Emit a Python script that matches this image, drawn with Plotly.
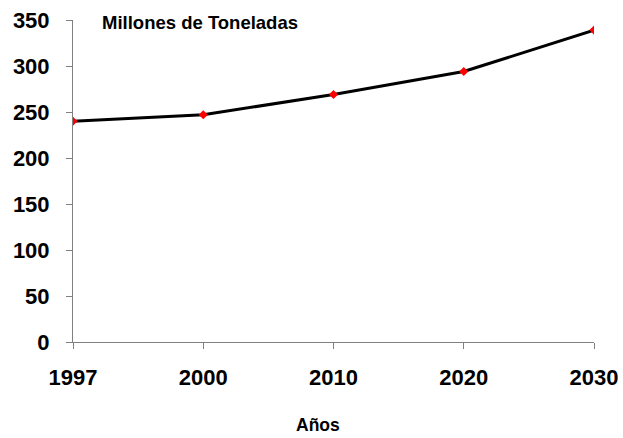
import plotly.graph_objects as go

years = ["1997", "2000", "2010", "2020", "2030"]
toneladas = [240, 247, 269, 294, 339]
y_ticks = [0, 50, 100, 150, 200, 250, 300, 350]

L, R, T, B = 73, 29, 20, 96
W, H = 623, 438
pw, ph = W - L - R, H - T - B

fig = go.Figure()
fig.add_trace(go.Scatter(
    x=years, y=toneladas, mode="lines+markers",
    line=dict(color="black", width=3),
    marker=dict(symbol="diamond", color="red", size=7),
    showlegend=False,
))

font = "Liberation Sans, Arial, sans-serif"
fig.update_layout(
    width=W, height=H,
    margin=dict(l=L, r=R, t=T, b=B),
    plot_bgcolor="white", paper_bgcolor="white",
    font=dict(family=font, color="black"),
    xaxis=dict(
        type="category", range=[0, 4], automargin=False,
        showgrid=False, showline=True, linecolor="#808080", linewidth=1,
        ticks="outside", ticklen=6, tickcolor="#808080",
        tickfont=dict(size=22, family=font, weight="bold"),
        ticklabelstandoff=10,
    ),
    yaxis=dict(
        range=[0, 350], tickvals=y_ticks, automargin=False,
        showgrid=False, showline=True, linecolor="#808080", linewidth=1,
        ticks="outside", ticklen=6, tickcolor="#808080",
        tickfont=dict(size=22, family=font, weight="bold"),
        ticklabelstandoff=12,
        zeroline=False,
    ),
    annotations=[
        dict(text="<b>Millones de Toneladas</b>", xref="paper", yref="paper",
             x=(100 - L) / pw, y=(H - B - 22) / ph, xanchor="left", yanchor="middle",
             showarrow=False, font=dict(size=18.5)),
        dict(text="<b>Años</b>", xref="paper", yref="paper",
             x=(318 - L) / pw, y=(H - B - 425) / ph, xanchor="center", yanchor="middle",
             showarrow=False, font=dict(size=17.5)),
    ],
)
fig.write_html("out.html")
